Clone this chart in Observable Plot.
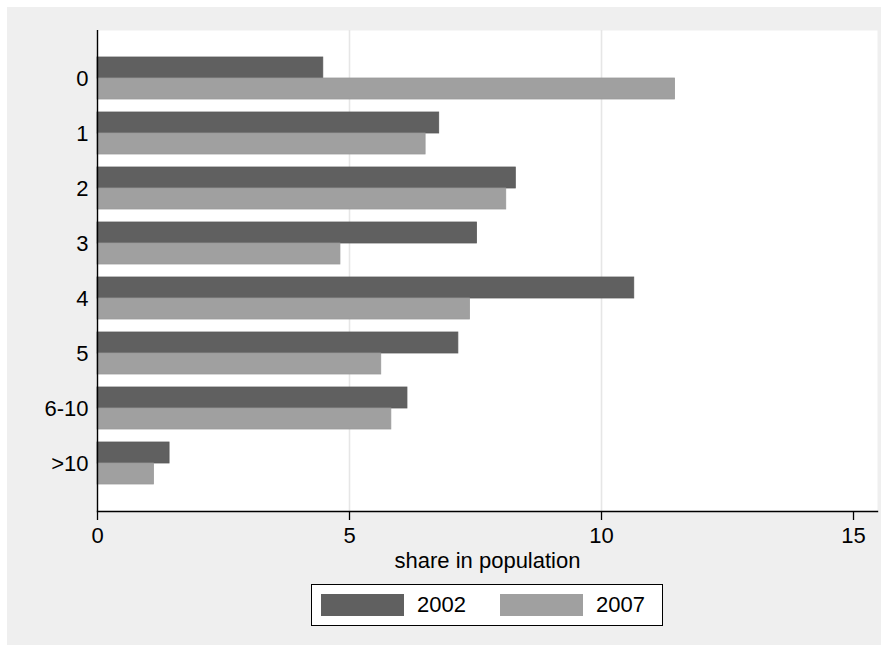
<!DOCTYPE html>
<html>
<head>
<meta charset="utf-8">
<script src="https://cdn.jsdelivr.net/npm/d3@7"></script>
<script src="https://cdn.jsdelivr.net/npm/@observablehq/plot@0.6"></script>
<style>
  html, body { margin: 0; padding: 0; background: #ffffff; }
  #wrap {
    position: absolute; left: 7px; top: 7px; width: 874px; height: 638px;
    background: #efefef; font-family: "Liberation Sans", Arial, sans-serif;
  }
  #legend {
    position: absolute; left: 304px; top: 577px; width: 350px; height: 40px;
    background: #ffffff; border: 1px solid #000; display: flex; align-items: center;
    box-sizing: content-box; font-size: 22px; color: #000;
  }
  .sw { width: 83px; height: 22px; display: inline-block; }
</style>
</head>
<body>
<div id="wrap">
  <div id="chart"></div>
  <div id="legend"></div>
</div>
<script>
const categories = ["0", "1", "2", "3", "4", "5", "6-10", ">10"];
const years = ["2002", "2007"];
const values2002 = [4.48, 6.78, 8.30, 7.53, 10.65, 7.16, 6.15, 1.43];
const values2007 = [11.46, 6.51, 8.11, 4.82, 7.39, 5.63, 5.83, 1.12];
const xTicks = [0, 5, 10, 15];
const gridTicks = [5, 10];
const colors = {"2002": "#606060", "2007": "#a0a0a0"};
const strokes = {"2002": "#5a5a5a", "2007": "#9a9a9a"};

const rows2002 = categories.map((c, i) => ({cat: c, year: "2002", value: values2002[i]}));
const rows2007 = categories.map((c, i) => ({cat: c, year: "2007", value: values2007[i]}));

const plot = Plot.plot({
  width: 874,
  height: 575,
  marginLeft: 90,
  marginRight: 4,
  marginTop: 23,
  marginBottom: 71,
  style: {fontFamily: "'Liberation Sans', Arial, sans-serif", fontSize: "22px", background: "transparent", color: "#000"},
  x: {domain: [0, 15.476], label: null},
  y: {domain: categories, padding: 0.236, inset: 14, label: null},
  marks: [
    Plot.frame({fill: "#ffffff", stroke: null}),
    Plot.ruleX(gridTicks, {stroke: "#e6e6e6", strokeWidth: 1.6}),
    Plot.barX(rows2002, {y: "cat", x: "value", fill: colors["2002"], stroke: strokes["2002"], strokeWidth: 0.8, insetBottom: 21}),
    Plot.barX(rows2007, {y: "cat", x: "value", fill: colors["2007"], stroke: strokes["2007"], strokeWidth: 0.8, insetTop: 21}),
    Plot.axisY({tickSize: 0, tickPadding: 9, label: null, fontSize: 22}),
    Plot.axisX({ticks: xTicks, tickSize: 9, tickPadding: 7, label: null, fontSize: 22, strokeWidth: 1.3}),
    Plot.ruleX([0], {stroke: "#000", strokeWidth: 1.4}),
    Plot.frame({anchor: "bottom", stroke: "#000", strokeWidth: 1.4}),
    Plot.text(["share in population"], {frameAnchor: "bottom", dy: 56, fontSize: 22, fill: "#000"})
  ]
});
document.getElementById("chart").appendChild(plot);

const legend = document.getElementById("legend");
years.forEach((yr, i) => {
  const sw = document.createElement("span");
  sw.className = "sw";
  sw.style.background = colors[yr];
  sw.style.marginLeft = i === 0 ? "9px" : "34px";
  legend.appendChild(sw);
  const t = document.createElement("span");
  t.textContent = yr;
  t.style.marginLeft = "13px";
  legend.appendChild(t);
});
</script>
</body>
</html>
